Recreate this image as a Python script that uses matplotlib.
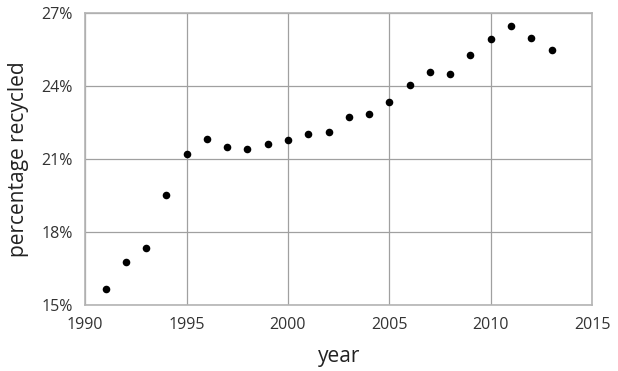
import matplotlib.pyplot as plt
from matplotlib.ticker import FuncFormatter

plt.rcParams['font.family'] = ['Open Sans', 'DejaVu Sans']

years = list(range(1991, 2014))
pct = [15.66, 16.76, 17.36, 19.54, 21.23, 21.82, 21.49, 21.43, 21.63, 21.78,
       22.05, 22.11, 22.74, 22.86, 23.34, 24.05, 24.59, 24.52, 25.30, 25.94,
       26.49, 25.99, 25.48]
xticks = [1990, 1995, 2000, 2005, 2010, 2015]
yticks = [15, 18, 21, 24, 27]

fig = plt.figure(figsize=(6.18, 3.71), dpi=100)
ax = fig.add_axes([0.138, 0.178, 0.820, 0.786])
ax.scatter(years, pct, s=30, color='black', zorder=3, linewidths=0)

ax.set_xlim(1990, 2015)
ax.set_ylim(15, 27)
ax.set_xticks(xticks)
ax.set_yticks(yticks)
ax.yaxis.set_major_formatter(FuncFormatter(lambda v, p: f'{v:.0f}%'))
ax.grid(True, color='#a0a0a0', linewidth=0.9)
ax.set_axisbelow(True)
for s in ax.spines.values():
    s.set_color('#b4b4b4')
    s.set_linewidth(1.2)
ax.tick_params(length=0, labelsize=11.5, colors='#333333')
ax.tick_params(axis='x', pad=9)
ax.tick_params(axis='y', pad=9)
ax.set_xlabel('year', fontsize=15, labelpad=9, color='#222222')
ax.set_ylabel('percentage recycled', fontsize=15, labelpad=9, color='#222222')

fig.savefig('out.png', dpi=100)
